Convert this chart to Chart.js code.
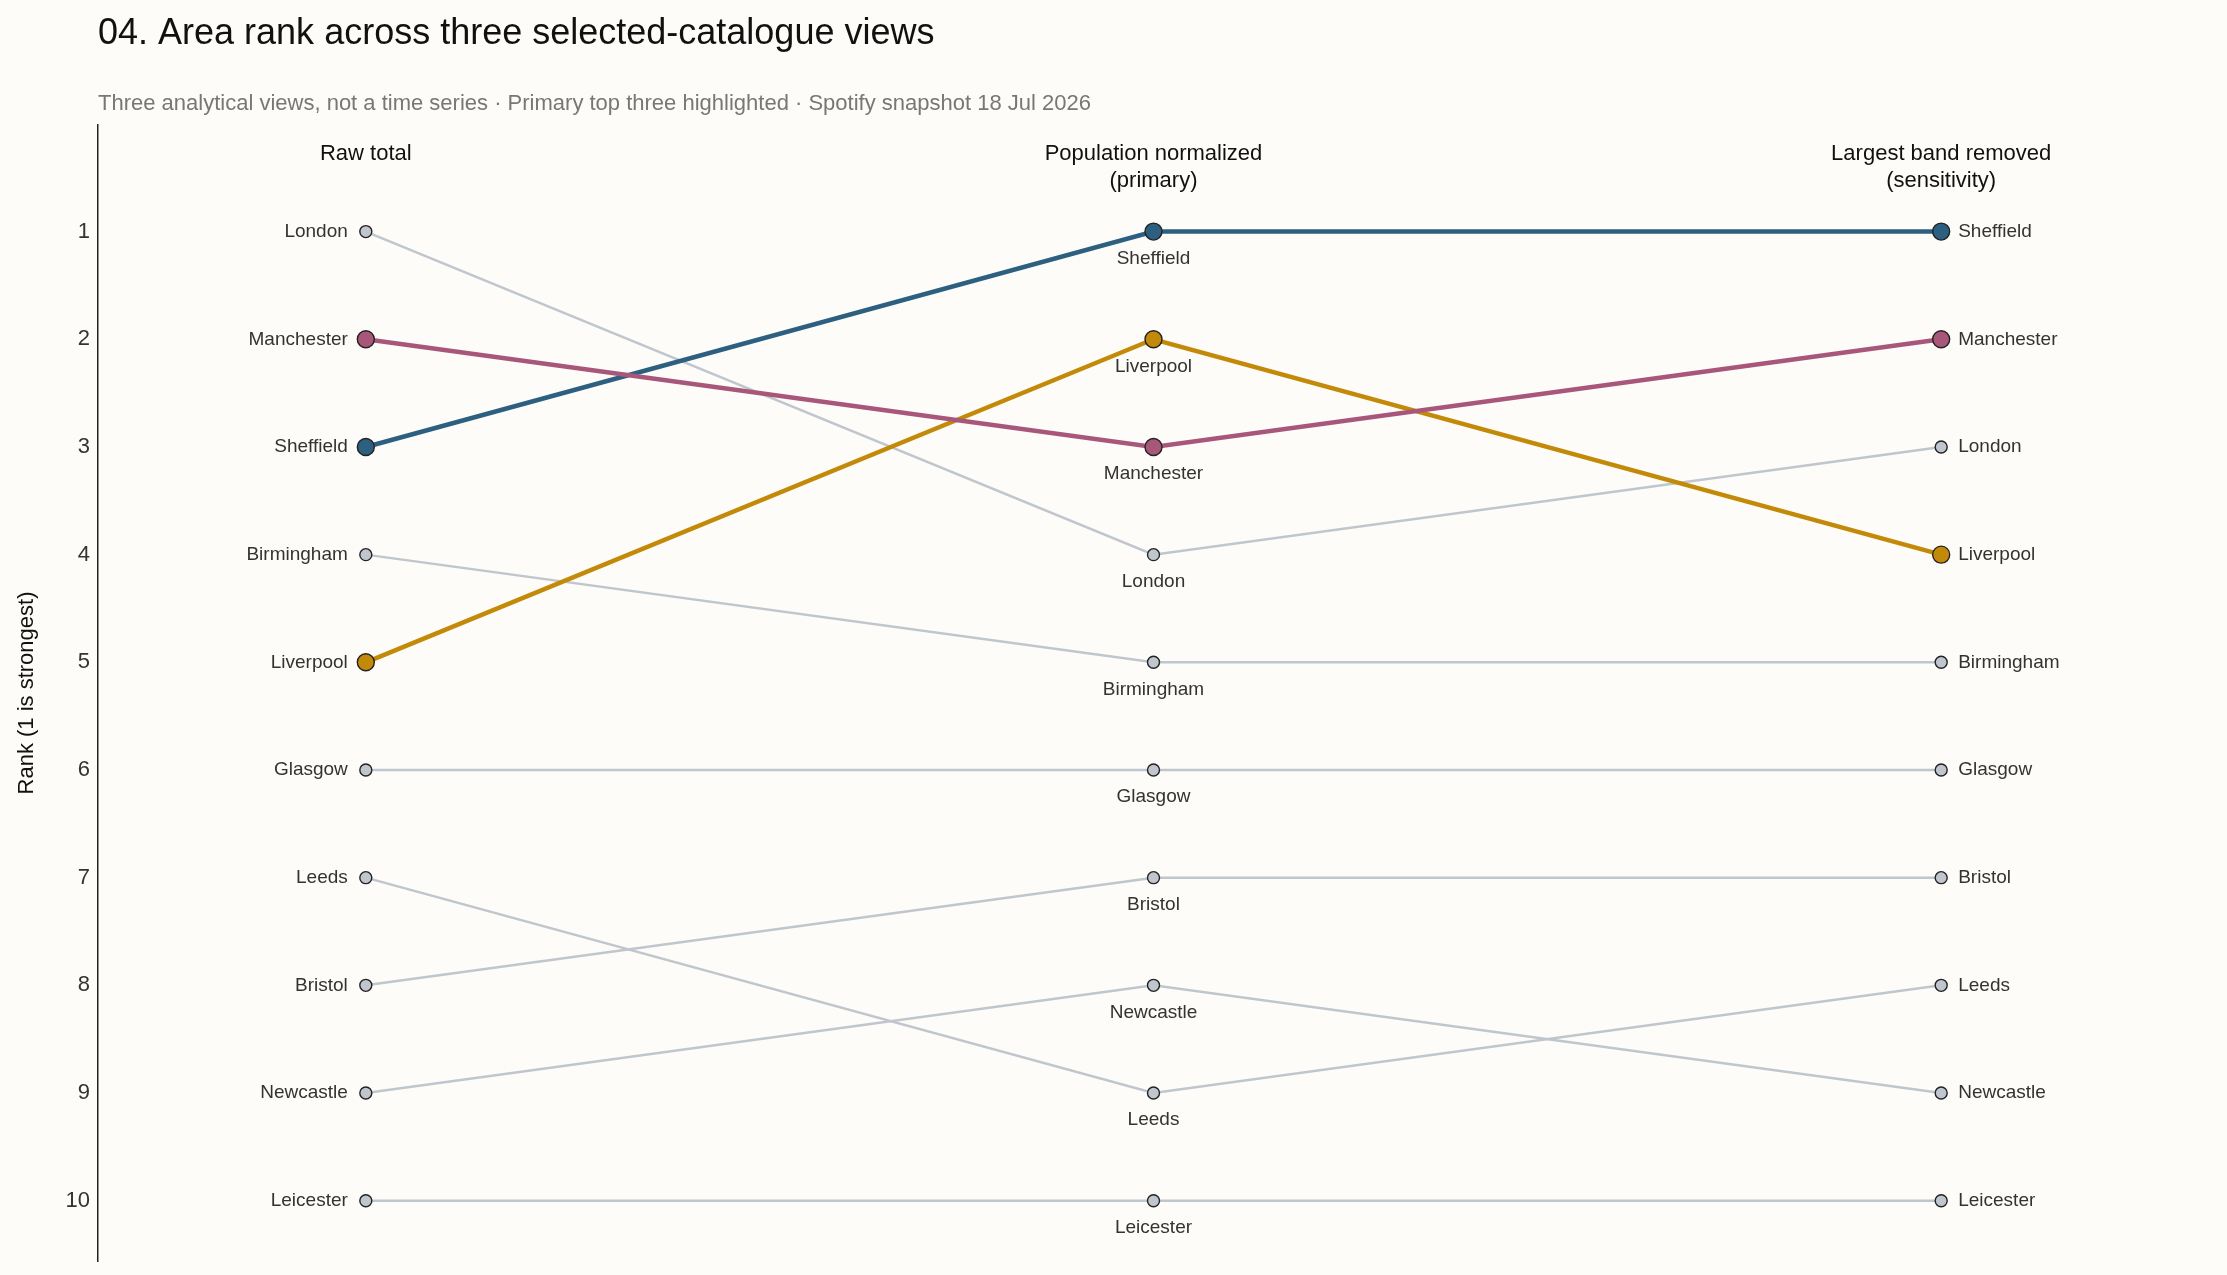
<!DOCTYPE html>
<html>
<head>
<meta charset="utf-8">
<script src="https://cdn.jsdelivr.net/npm/chart.js@4"></script>
<style>
  html, body { margin: 0; padding: 0; background: #fdfcf8; }
  canvas { display: block; }
</style>
</head>
<body>
<canvas id="rankChart" width="2227" height="1275" style="width:2227px;height:1275px"></canvas>
<script>
// ============================
// Data
// ============================
const views = ["Raw total", "Population normalized\n(primary)", "Largest band removed\n(sensitivity)"];
const cities = ["London", "Manchester", "Sheffield", "Birmingham", "Liverpool", "Glasgow", "Leeds", "Bristol", "Newcastle", "Leicester"];
const rawRank = [1, 2, 3, 4, 5, 6, 7, 8, 9, 10];
const popRank = [4, 3, 1, 5, 2, 6, 9, 7, 8, 10];
const bandRank = [3, 2, 1, 5, 4, 6, 8, 7, 9, 10];
const rankTicks = [1, 2, 3, 4, 5, 6, 7, 8, 9, 10];
const highlightColors = { Sheffield: "#2d5f80", Manchester: "#a8577a", Liverpool: "#c38a0a" };

const GREY = "#c0c6cd";
const FONT = "'Liberation Sans', Arial, sans-serif";

// ============================
// Datasets
// ============================
const datasets = cities.map((city, i) => {
    const hi = highlightColors[city];
    const col = hi || GREY;
    return {
        label: city,
        data: [rawRank[i], popRank[i], bandRank[i]].map((r, v) => ({ x: v, y: r })),
        borderColor: col,
        backgroundColor: col,
        borderWidth: hi ? 4.5 : 2.5,
        pointRadius: hi ? 8.5 : 6,
        pointBorderColor: "#222",
        pointBorderWidth: 1.4,
        pointBackgroundColor: col,
        order: hi ? 0 : 1,
        tension: 0
    };
});

// ============================
// Text plugin: title, headers, labels
// ============================
const textPlugin = {
    id: "textPlugin",
    afterDatasetsDraw(chart) {
        const ctx = chart.ctx;
        const xs = chart.scales.x, ys = chart.scales.y;
        ctx.save();
        ctx.fillStyle = "#111";
        ctx.textBaseline = "middle";
        ctx.textAlign = "left";
        ctx.font = "36px " + FONT;
        ctx.fillText("04. Area rank across three selected-catalogue views", 98, 34);
        ctx.fillStyle = "#777";
        ctx.font = "22px " + FONT;
        ctx.fillText("Three analytical views, not a time series \u00b7 Primary top three highlighted \u00b7 Spotify snapshot 18 Jul 2026", 98, 104);

        // column headers
        ctx.fillStyle = "#111";
        ctx.textAlign = "center";
        views.forEach((v, i) => {
            v.split("\n").forEach((line, j) => {
                ctx.fillText(line, xs.getPixelForValue(i), 154 + j * 27);
            });
        });

        // city labels
        ctx.fillStyle = "#333";
        ctx.font = "19px " + FONT;
        cities.forEach((city, i) => {
            ctx.textAlign = "right";
            ctx.fillText(city, xs.getPixelForValue(0) - 18, ys.getPixelForValue(rawRank[i]));
            ctx.textAlign = "center";
            ctx.fillText(city, xs.getPixelForValue(1), ys.getPixelForValue(popRank[i]) + 27);
            ctx.textAlign = "left";
            ctx.fillText(city, xs.getPixelForValue(2) + 17, ys.getPixelForValue(bandRank[i]));
        });
        ctx.restore();
    }
};

// ============================
// Chart
// ============================
new Chart(document.getElementById("rankChart").getContext("2d"), {
    type: "line",
    data: { datasets },
    plugins: [textPlugin],
    options: {
        responsive: false,
        animation: false,
        devicePixelRatio: 1,
        layout: { padding: { top: 125, bottom: 14, right: 18, left: 10 } },
        plugins: { legend: { display: false }, tooltip: { enabled: false } },
        scales: {
            x: { type: "linear", min: -0.34, max: 2.34, display: false },
            y: {
                type: "linear",
                reverse: true,
                min: 0.01,
                max: 10.56,
                afterBuildTicks: (s) => { s.ticks = rankTicks.map(v => ({ value: v })); },
                afterFit: (s) => { s.width = 88; },
                grid: { display: false },
                border: { display: true, color: "#222", width: 1.5 },
                ticks: { color: "#333", font: { size: 22, family: FONT }, padding: 0 },
                title: { display: true, text: "Rank (1 is strongest)", color: "#111", font: { size: 22, family: FONT } }
            }
        }
    }
});
</script>
</body>
</html>
